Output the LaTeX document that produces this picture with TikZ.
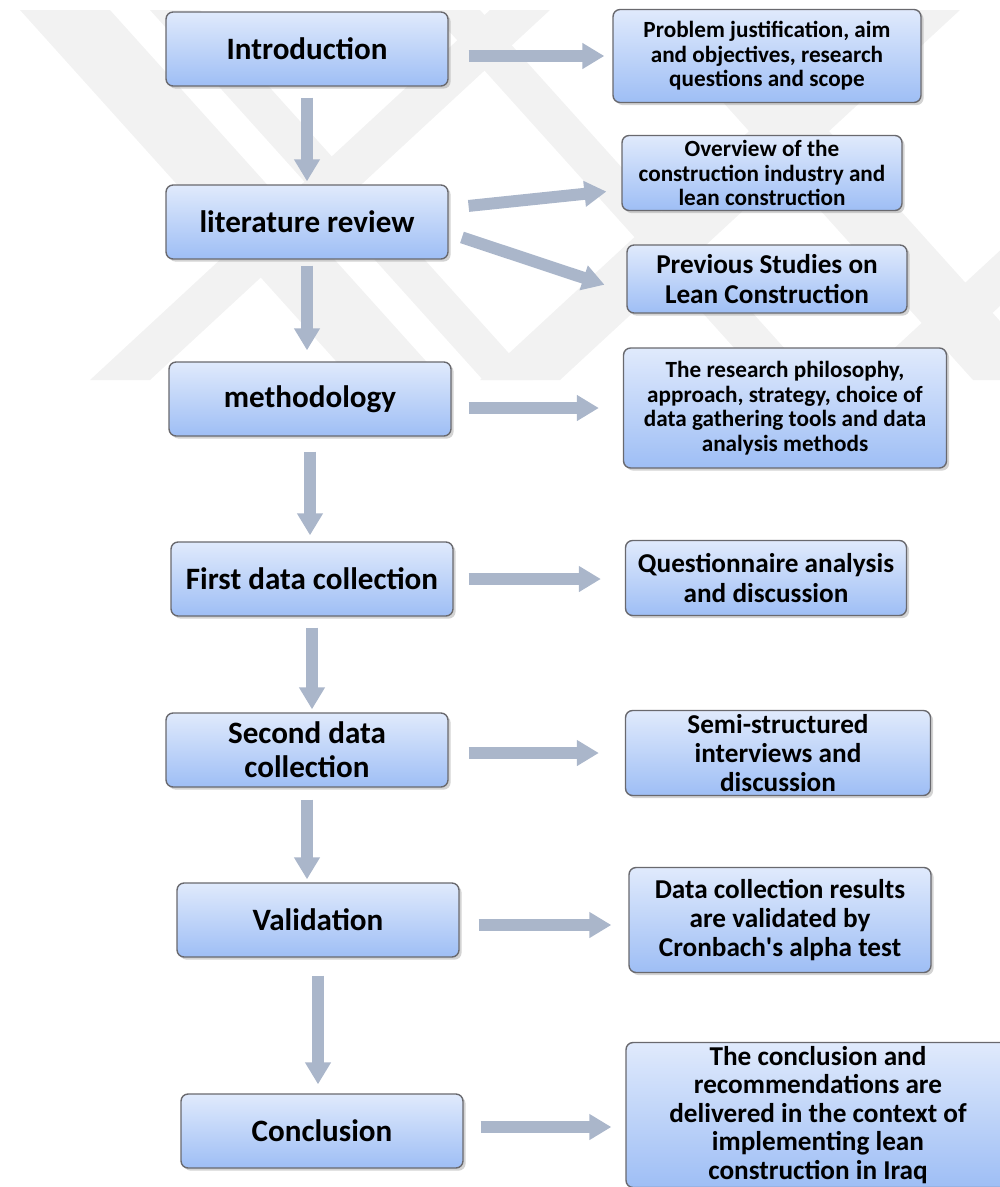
\documentclass[tikz,border=0pt]{standalone}
\usepackage{fontspec}
\setmainfont{Carlito}
\usetikzlibrary{arrows.meta,shadows}
\definecolor{boxtop}{RGB}{224,234,252}
\definecolor{boxbot}{RGB}{158,190,245}
\definecolor{boxline}{RGB}{105,105,110}
\definecolor{arrowgray}{RGB}{170,182,202}
\definecolor{markgray}{RGB}{242,242,242}

\begin{document}
\begin{tikzpicture}[x=0.02cm,y=-0.02cm,
  box/.style={draw=boxline,line width=0.8pt,rounded corners=4pt,top color=boxtop,bottom color=boxbot,
    drop shadow={shadow xshift=1.5pt,shadow yshift=-1.5pt,opacity=0.35},align=center,inner sep=2pt},
  stage/.style={box,minimum width=5.64cm,minimum height=1.48cm,font=\bfseries\fontsize{17.7}{19.2}\selectfont},
  detail/.style={box,font=\bfseries\fontsize{13.2}{14}\selectfont},
  bigdetail/.style={box,font=\bfseries\fontsize{15.5}{16.6}\selectfont},
  flow/.style={line width=6.8pt,draw=arrowgray,-{Triangle[width=14pt,length=12.5pt]}}]
\useasboundingbox (0,0) rectangle (1000,1187);
% faint watermark stripes
\begin{scope}
\clip (0,10) rectangle (1000,380);
\foreach \a/\w in {20/90,150/50,430/50,640/80}
  \fill[markgray] (\a,10) -- ++(\w,0) -- ++(333,370) -- ++(-\w,0) -- cycle;
\foreach \a/\w in {90/60,480/80,860/60}
  \fill[markgray] (\a,380) -- ++(\w,0) -- ++(400,-370) -- ++(-\w,0) -- cycle;
\end{scope}
% main stages
\node[stage] (intro) at (307,49) {Introduction};
\node[stage] (lit) at (307,222) {literature review};
\node[stage] (meth) at (310,399) {methodology};
\node[stage] (first) at (312,579) {First data collection};
\node[stage] (second) at (307,750) {Second data\\collection};
\node[stage] (valid) at (318,920) {Validation};
\node[stage] (concl) at (322,1131) {Conclusion};
% contents of each stage
\node[detail,minimum width=6.16cm,minimum height=1.86cm] (aims) at (767,56) {Problem justification, aim\\and objectives, research\\questions and scope};
\node[detail,minimum width=5.6cm,minimum height=1.5cm] (overview) at (762,173) {Overview of the\\construction industry and\\lean construction};
\node[bigdetail,minimum width=5.6cm,minimum height=1.36cm] (previous) at (767,279) {Previous Studies on\\Lean Construction};
\node[detail,minimum width=6.46cm,minimum height=2.4cm] (design) at (785,408) {The research philosophy,\\approach, strategy, choice of\\data gathering tools and data\\analysis methods};
\node[bigdetail,minimum width=5.62cm,minimum height=1.5cm] (survey) at (766,578) {Questionnaire analysis\\and discussion};
\node[bigdetail,minimum width=6.1cm,minimum height=1.7cm] (interviews) at (778,753) {Semi-structured\\interviews and\\discussion};
\node[bigdetail,minimum width=6.04cm,minimum height=2.1cm] (cronbach) at (780,920) {Data collection results\\are validated by\\Cronbach\textquotesingle s alpha test};
\node[bigdetail,minimum width=7.68cm,minimum height=2.9cm,font=\bfseries\fontsize{15.5}{16.2}\selectfont] (outcome) at (818,1115) {The conclusion and\\recommendations are\\delivered in the context of\\implementing lean\\construction in Iraq};
% downward flow
\draw[flow,shorten <=0.22cm,shorten >=0.06cm] (intro.south) -- (intro.south |- lit.north);
\draw[flow,shorten <=0.12cm,shorten >=0.22cm] (lit.south) -- (lit.south |- meth.north);
\draw[flow,shorten <=0.3cm,shorten >=0.12cm] (meth.south) -- (meth.south |- first.north);
\draw[flow,shorten <=0.22cm,shorten >=0.06cm] (first.south) -- (first.south |- second.north);
\draw[flow,shorten <=0.24cm,shorten >=0.06cm] (second.south) -- (second.south |- valid.north);
\draw[flow,shorten <=0.36cm,shorten >=0.18cm] (valid.south) -- (valid.south |- concl.north);
% sideways flow
\draw[flow,shorten <=0.4cm,shorten >=0.16cm] (intro.east |- aims.west) -- (aims.west);
\draw[flow,shorten <=0.4cm,shorten >=0.3cm] ([yshift=0.28cm]lit.east) -- ([yshift=-0.34cm]overview.west);
\draw[flow,shorten <=0.28cm,shorten >=0.46cm] ([yshift=-0.22cm]lit.east) -- ([yshift=-0.26cm]previous.west);
\draw[flow,shorten <=0.34cm,shorten >=0.48cm] (meth.east |- design.west) -- (design.west);
\draw[flow,shorten <=0.3cm,shorten >=0.48cm] (first.east) -- (first.east -| survey.west);
\draw[flow,shorten <=0.4cm,shorten >=0.52cm] (second.east |- interviews.west) -- (interviews.west);
\draw[flow,shorten <=0.38cm,shorten >=0.34cm] ([yshift=-0.1cm]valid.east) -- ([yshift=-0.1cm]valid.east -| cronbach.west);
\draw[flow,shorten <=0.34cm,shorten >=0.28cm] ([yshift=0.08cm]concl.east) -- ([yshift=0.08cm]concl.east -| outcome.west);
\end{tikzpicture}
\end{document}
